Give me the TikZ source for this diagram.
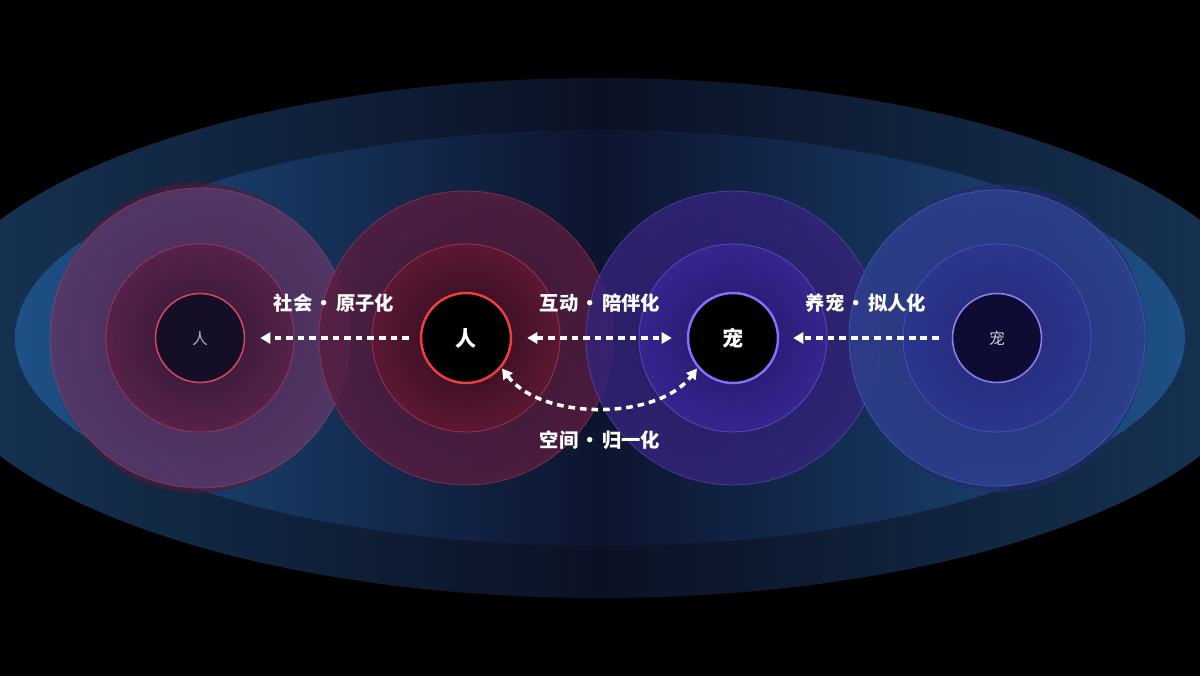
\documentclass[tikz,border=0pt]{standalone}
\usepackage{fontspec}
\newfontfamily\cjk{Noto Sans CJK SC}
\usetikzlibrary{arrows.meta}
\definecolor{eoA}{HTML}{205684}
\definecolor{eoB}{HTML}{1A4268}
\definecolor{eoC}{HTML}{0B1124}
\definecolor{eiA}{HTML}{3092D6}
\definecolor{eiB}{HTML}{2466A6}
\definecolor{eiC}{HTML}{0D142E}
% left small person
\definecolor{agh}{HTML}{5A1632}
\definecolor{aoI}{HTML}{4A2A5A}\definecolor{aoM}{HTML}{5A4072}\definecolor{aoO}{HTML}{7E3A6C}\definecolor{aoR}{HTML}{BE4664}
\definecolor{amI}{HTML}{2A1230}\definecolor{amM}{HTML}{66224A}\definecolor{amO}{HTML}{B03052}\definecolor{amR}{HTML}{DC4664}
% main person
\definecolor{boI}{HTML}{44183A}\definecolor{boM}{HTML}{5E1E40}\definecolor{boO}{HTML}{96284A}\definecolor{boR}{HTML}{D03C5C}
\definecolor{bmI}{HTML}{260818}\definecolor{bmM}{HTML}{721C38}\definecolor{bmO}{HTML}{BC2C4C}\definecolor{bmR}{HTML}{EE4866}
% main pet
\definecolor{coI}{HTML}{2C1E6C}\definecolor{coM}{HTML}{362680}\definecolor{coO}{HTML}{4832A6}\definecolor{coR}{HTML}{6E5ADC}
\definecolor{cmI}{HTML}{221466}\definecolor{cmM}{HTML}{402CA4}\definecolor{cmO}{HTML}{5C42CC}\definecolor{cmR}{HTML}{826EF0}
% right small pet
\definecolor{dgh}{HTML}{26286E}
\definecolor{doI}{HTML}{2A3680}\definecolor{doM}{HTML}{304494}\definecolor{doO}{HTML}{3A56B0}\definecolor{doR}{HTML}{5A72D0}
\definecolor{dmI}{HTML}{24287A}\definecolor{dmM}{HTML}{2E3894}\definecolor{dmO}{HTML}{3A46AC}\definecolor{dmR}{HTML}{6070D6}
% nodes
\definecolor{saFill}{HTML}{140F26}\definecolor{saDraw}{HTML}{CD465C}\definecolor{saText}{HTML}{A8B4CC}
\definecolor{pDraw}{HTML}{F03C3C}
\definecolor{cDraw}{HTML}{8070FF}
\definecolor{sdFill}{HTML}{0E0C32}\definecolor{sdDraw}{HTML}{8A7EE8}\definecolor{sdText}{HTML}{D0D0D8}
\pgfdeclarehorizontalshading[ellA,ellB,ellC]{ellshade}{100bp}{color(0bp)=(ellA); color(16bp)=(ellB); color(50bp)=(ellC); color(84bp)=(ellB); color(100bp)=(ellA)}
\pgfdeclareradialshading[ringIn,ringMid,ringOut]{ringshade}{\pgfpoint{0bp}{0bp}}{color(0bp)=(ringIn); color(32bp)=(ringMid); color(50bp)=(ringOut)}
\tikzset{
  ellcols/.style n args={3}{/utils/exec={\colorlet{ellA}{#1}\colorlet{ellB}{#2}\colorlet{ellC}{#3}}, shading=ellshade},
  ringcols/.style n args={4}{/utils/exec={\colorlet{ringIn}{#1}\colorlet{ringMid}{#2}\colorlet{ringOut}{#3}}, shading=ringshade, opacity=0.82, draw=#4, line width=0.5pt, draw opacity=0.45},
  ghost/.style={fill=#1, fill opacity=0.55},
  bignode/.style={circle, minimum size=1.8cm, inner sep=0pt, line width=1.4pt, fill=black, text=white, font=\cjk\bfseries\fontsize{12}{14}\selectfont},
  smallnode/.style={circle, minimum size=1.78cm, inner sep=0pt, line width=0.9pt, font=\cjk\fontsize{9}{11}\selectfont},
  lbl/.style={text=white, font=\cjk\bfseries\fontsize{11}{13}\selectfont, inner sep=0pt},
  darr/.style={draw=white, line width=2pt, dash pattern=on 3.8pt off 2.8pt, >={Triangle[length=5.8pt,width=6.4pt]}}
}
\newcommand\sdot{\kern0.12em·\kern0.12em}
\begin{document}
\begin{tikzpicture}[x=0.02cm,y=-0.02cm]
\useasboundingbox (0,0) rectangle (1200,676);
\fill[black] (0,0) rectangle (1200,676);
\clip (0,0) rectangle (1200,676);
% ellipses
\shade[ellcols={eoA}{eoB}{eoC}] (600,338) ellipse [x radius=673, y radius=260];
\shade[ellcols={eiA}{eiB}{eiC}] (600,338) ellipse [x radius=585, y radius=208];
% ghost shapes
\fill[ghost=agh] (197,338) ellipse [x radius=146, y radius=155];
\fill[ghost=dgh] (1000,338) ellipse [x radius=146, y radius=154];
% rings
\shadedraw[ringcols={aoI}{aoM}{aoO}{aoR}] (200,338) circle (150);
\shadedraw[ringcols={amI}{amM}{amO}{amR}] (200,338) circle (94);
\shadedraw[ringcols={boI}{boM}{boO}{boR}] (466,338) circle (147);
\shadedraw[ringcols={bmI}{bmM}{bmO}{bmR}] (466,338) circle (94);
\shadedraw[ringcols={coI}{coM}{coO}{coR}] (733,338) circle (147);
\shadedraw[ringcols={cmI}{cmM}{cmO}{cmR}] (733,338) circle (94);
\shadedraw[ringcols={doI}{doM}{doO}{doR}] (997,338) circle (148);
\shadedraw[ringcols={dmI}{dmM}{dmO}{dmR}] (997,338) circle (94);
% nodes
\node[smallnode, fill=saFill, draw=saDraw, text=saText] (s1) at (200,338) {人};
\node[bignode, draw=pDraw] (p1) at (466,338) {人};
\node[bignode, draw=cDraw] (c2) at (733,338) {宠};
\node[smallnode, fill=sdFill, draw=sdDraw, text=sdText] (s2) at (997,338) {宠};
% labels
\node[lbl] (l1) at (334,303) {社会\sdot 原子化};
\node[lbl] (l2) at (600,303) {互动\sdot 陪伴化};
\node[lbl] (l3) at (866,303) {养宠\sdot 拟人化};
\node[lbl] (l4) at (600,440) {空间\sdot 归一化};
% connectors
\draw[darr, ->, shorten <=0.22cm, shorten >=0.3cm] (p1.west) -- (s1.east);
\draw[darr, <->, shorten <=0.3cm, shorten >=0.3cm] (p1.east) -- (c2.west);
\draw[darr, ->, shorten <=0.26cm, shorten >=0.28cm] (s2.west) -- (c2.east);
\draw[darr, <->, shorten <=0.02cm, shorten >=0.02cm] (p1.-40) .. controls +(40,53) and +(-40,53) .. (c2.-140);
\end{tikzpicture}
\end{document}
